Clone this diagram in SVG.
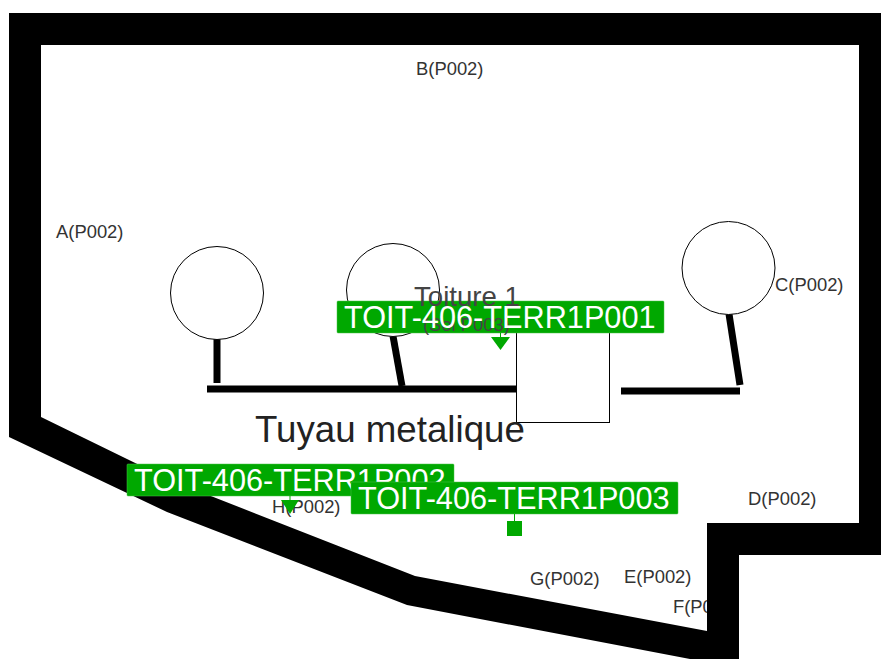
<svg xmlns="http://www.w3.org/2000/svg" width="881" height="659" viewBox="0 0 881 659">
<style>
text{font-family:"Liberation Sans",Arial,sans-serif}
.pt{font-size:18.400px;fill:#333}
.shape{fill:#fff;stroke:#000;stroke-width:1}
.pipe{stroke:#000;stroke-width:7;fill:none}
.tag{fill:#00a800;stroke:#4dc24d;stroke-width:0.500}
.tagt{font-size:30.700px;fill:#fff}
.mark{fill:#00a800}
.link{stroke:#00a800;stroke-width:1;fill:none}
</style>
<rect width="881" height="659" fill="#fff"/>
<text class="pt" x="673" y="613">F(P002)</text>
<g id="wall"><path fill="#000" fill-rule="evenodd" d="M9 13H881V555H739V659H690L407 605L167 512L9 437ZM41 45V417L170 480L415 576L707 631V523H859V45Z"/></g>
<g id="connectors">
<path class="pipe" d="M217 339V383"/>
<path class="pipe" d="M393 336L402 386"/>
<path class="pipe" d="M729 314L740 385"/>
<path class="pipe" d="M207 389H517"/>
<path class="pipe" d="M621 391H740"/>
</g>
<g id="labels-points">
<text class="pt" x="416" y="75">B(P002)</text>
<text class="pt" x="56" y="238">A(P002)</text>
<text class="pt" x="775" y="291">C(P002)</text>
<text class="pt" x="748" y="505">D(P002)</text>
<text class="pt" x="624" y="583">E(P002)</text>
<text class="pt" x="530" y="585">G(P002)</text>
<text class="pt" x="272" y="513">H(P002)</text>
</g>
<g id="tree-1"><circle class="shape" cx="217" cy="293" r="46.500"/></g>
<g id="tree-2"><circle class="shape" cx="393" cy="290" r="46.500"/></g>
<g id="tree-3"><circle class="shape" cx="728.500" cy="268" r="46.500"/></g>
<g id="box"><rect class="shape" x="516.500" y="325" width="93" height="97.500"/></g>
<text x="255" y="442" font-size="36.700" fill="#222">Tuyau metalique</text>
<g id="tag-1">
<rect class="tag" x="337" y="301" width="327" height="32" rx="1"/>
<path class="link" d="M500.500 333V340"/>
<path class="mark" d="M491 337H510L500.500 350Z"/>
</g>
<g id="toiture">
<text x="414" y="306" font-size="27.600" fill="#444">Toiture 1</text>
<text x="423" y="331" font-size="18.400" fill="#444">(Sol P003)</text>
</g>
<text class="tagt" x="344" y="328">TOIT-406-TERR1P001</text>
<g id="tag-2">
<rect class="tag" x="127" y="464" width="327" height="32" rx="1"/>
<text class="tagt" x="134" y="491">TOIT-406-TERR1P002</text>
<path class="link" d="M290 496V503"/>
<path class="mark" d="M281 500H299L290 514Z"/>
</g>
<g id="tag-3">
<rect class="tag" x="351" y="482" width="327" height="32" rx="1"/>
<text class="tagt" x="358" y="509">TOIT-406-TERR1P003</text>
<path class="link" d="M514.500 514V521"/>
<rect class="mark" x="507" y="521" width="15" height="15"/>
</g>
</svg>
